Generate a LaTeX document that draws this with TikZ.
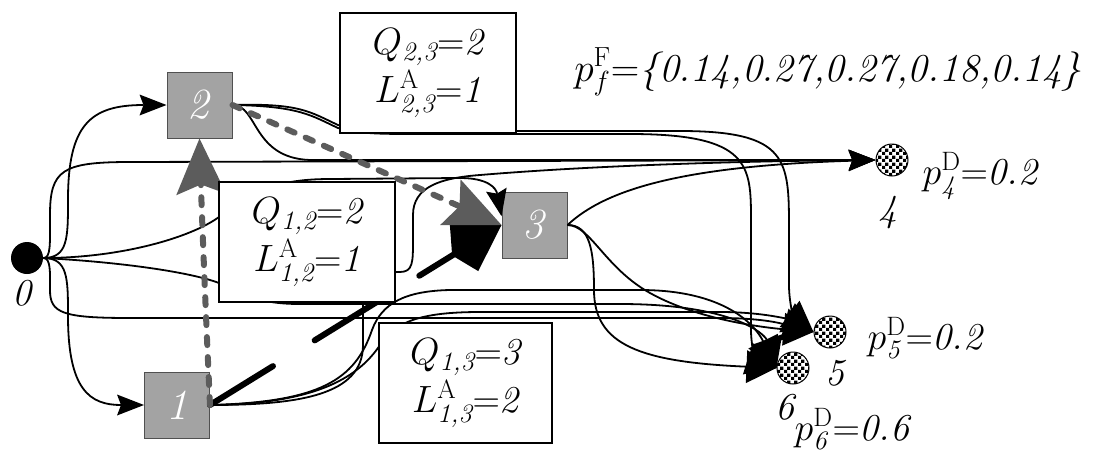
\RequirePackage{fix-cm}
\documentclass[tikz,border=0pt]{standalone}
\usepackage{amsmath}
\usetikzlibrary{arrows.meta,patterns}
\pgfdeclarepatternformonly{bigcheck}{\pgfpointorigin}{\pgfqpoint{7pt}{7pt}}{\pgfqpoint{7pt}{7pt}}{%
 \pgfpathrectangle{\pgfpointorigin}{\pgfqpoint{3.5pt}{3.5pt}}%
 \pgfpathrectangle{\pgfqpoint{3.5pt}{3.5pt}}{\pgfqpoint{3.5pt}{3.5pt}}%
 \pgfusepath{fill}}
\definecolor{sqfill}{HTML}{A3A3A3}
\definecolor{sqline}{HTML}{505050}
\definecolor{dgray}{HTML}{5C5C5C}
\newcommand\figfont{\fontsize{38}{48}\selectfont}
\newcommand\sqfont{\fontsize{43}{48}\selectfont}
\newcommand\pffont{\fontsize{39.5}{48}\selectfont}
\tikzset{
 ln/.style={line width=1.8pt},
 arr/.style={-{Stealth[length=27pt,width=21pt,inset=4pt,line width=0pt]}},
 bigarr/.style={-{Triangle[length=30pt,width=33pt,line width=0pt]}},
 garr/.style={-{Stealth[length=56pt,width=50pt,inset=10pt,line width=0pt]}},
 karr/.style={-{Kite[length=58pt,width=54pt,inset=14pt,line width=0pt]}},
 gdash/.style={line width=6pt,draw=dgray,dash pattern=on 8pt off 12pt,line cap=round},
 bdash/.style={line width=6pt,dash pattern=on 74pt off 49pt,line cap=round},
 sq/.style={rectangle,fill=sqfill,draw=sqline,line width=1pt,minimum width=65pt,minimum height=66pt,inner sep=0pt,text=white,font=\sqfont},
 src/.style={circle,fill=black,minimum size=32pt,inner sep=0pt},
 dst/.style={circle,draw=black,line width=1pt,pattern=bigcheck,minimum size=32pt,inner sep=0pt},
 lbl/.style={font=\figfont,inner sep=0pt},
 qbox/.style={draw,fill=white,line width=1.5pt,minimum width=176pt,minimum height=120pt,inner sep=0pt,align=center,font=\figfont},
}
\begin{document}
\begin{tikzpicture}[x=1pt,y=-1pt]
\useasboundingbox (0,0) rectangle (1101,456);
% nodes
\node[src] (n0) at (27,258) {};
\node[sq] (n2) at (199.5,105) {\textit{2}};
\node[sq] (n1) at (177,405) {\textit{1}};
\node[sq] (n3) at (534.5,225) {\textit{3}};
\node[dst] (n4) at (892,160) {};
\node[dst] (n5) at (830,332) {};
\node[dst] (n6) at (793,368) {};
% labels
\node[lbl] (l0) at (23,293) {\textit{0}};
\node[lbl] (l4) at (888,213) {\textit{4}};
\node[lbl] (l5) at (836,373) {\textit{5}};
\node[lbl] (l6) at (786,407) {\textit{6}};
\node[lbl] (p4) at (980,176) {$p^{\mathrm{D}}_{\textit{4}}{=}\textit{0.2}$};
\node[lbl] (p5) at (925,338) {$p^{\mathrm{D}}_{\textit{5}}{=}\textit{0.2}$};
\node[lbl] (p6) at (852,429) {$p^{\mathrm{D}}_{\textit{6}}{=}\textit{0.6}$};
\node[lbl,font=\pffont] (pf) at (828,72) {$p^{\mathrm{F}}_{f}{=}$\textit{\{0.14,0.27,0.27,0.18,0.14\}}};
% edges from 0
\draw[ln,arr] (n0.east) .. controls (68,258) and (68,238) .. (68,200) .. controls (68,125) and (90,105) .. (n2.west);
\draw[ln,arr] (n0.east) .. controls (68,258) and (68,278) .. (68,316) .. controls (68,390) and (90,405) .. (n1.west);
\draw[ln,arr] (n0.east) .. controls (51,258) and (50,245) .. (50,215) .. controls (50,170) and (62,162) .. (130,162) -- (n4.west);
\draw[ln,bigarr] (n0.east) .. controls (51,258) and (50,272) .. (50,290) .. controls (50,313) and (62,318) .. (130,318) -- (720,318) .. controls (770,318) and (790,326) .. (n5.west);
\draw[ln,arr] (n0.east) .. controls (120,258) and (190,238) .. (219,217) .. controls (250,195) and (270,179) .. (330,179) -- (460,178) .. controls (488,178) and (496,188) .. (n3.165);
\draw[ln,bigarr] (n0.east) .. controls (120,262) and (190,272) .. (219,283) .. controls (245,293) and (255,304) .. (300,304) -- (620,304) .. controls (735,304) and (765,335) .. (n6.west);
% edges from 1
\draw[ln,arr] (n1.east) .. controls (300,405) and (363,395) .. (363,345) -- (363,300) .. controls (363,280) and (380,272) .. (400,272) .. controls (413,272) and (413,262) .. (413,240) -- (413,215) .. controls (413,187) and (440,178) .. (480,175) .. controls (600,165) and (750,161) .. (n4.west);
\draw[ln,bigarr] (n1.east) .. controls (320,402) and (355,380) .. (372,330) .. controls (382,303) and (405,291) .. (450,290) -- (640,290) .. controls (725,290) and (755,325) .. (n6.west);
\draw[ln,bigarr] (n1.east) .. controls (320,404) and (360,375) .. (380,345) .. controls (395,322) and (420,312) .. (480,312) -- (720,312) .. controls (770,312) and (795,322) .. (n5.west);
% edges from 2
\draw[ln,arr] (n2.east) .. controls (258,105) and (252,158) .. (310,160) -- (n4.west);
\draw[ln,bigarr] (n2.east) .. controls (300,103) and (310,112) .. (338,125) .. controls (360,131) and (380,131) .. (420,131) -- (680,131) .. controls (789,131) and (789,160) .. (789,230) -- (789,285) .. controls (789,305) and (795,318) .. (n5.west);
\draw[ln,bigarr] (n2.east) .. controls (300,106) and (312,116) .. (338,128) .. controls (360,134) and (380,134) .. (420,134) -- (630,134) .. controls (750,134) and (751,165) .. (751,220) -- (751,330) .. controls (751,350) and (758,362) .. (n6.west);
% edges from 3
\draw[ln,arr] (n3.east) .. controls (605,190) and (680,166) .. (n4.west);
\draw[ln,bigarr] (n3.east) .. controls (590,225) and (605,268) .. (650,293) .. controls (700,321) and (770,328) .. (n5.west);
\draw[ln,bigarr] (n3.east) .. controls (590,225) and (594,250) .. (594,290) .. controls (594,345) and (640,362) .. (n6.west);
% thick dashed
\draw[bdash,karr] (n1.east) -- (n3.west);
\draw[gdash,garr] (n1.east) .. controls (206,320) and (202,220) .. (n2.south);
\draw[gdash,garr] (n2.east) -- (n3.west);
% boxes
\node[qbox] (b12) at (307,242) {$Q_{\textit{1,2}}{=}\textit{2}$\\$L^{\mathrm{A}}_{\textit{1,2}}{=}\textit{1}$};
\node[qbox] (b23) at (428,73) {$Q_{\textit{2,3}}{=}\textit{2}$\\$L^{\mathrm{A}}_{\textit{2,3}}{=}\textit{1}$};
\node[qbox,minimum width=173pt] (b13) at (465.5,383) {$Q_{\textit{1,3}}{=}\textit{3}$\\$L^{\mathrm{A}}_{\textit{1,3}}{=}\textit{2}$};
\end{tikzpicture}
\end{document}
